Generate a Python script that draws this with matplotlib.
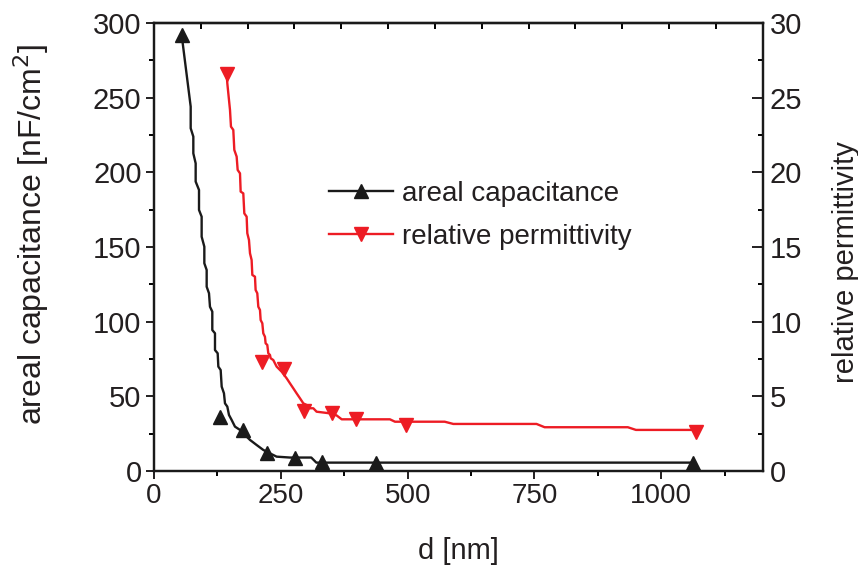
import matplotlib
matplotlib.use('Agg')
import matplotlib.pyplot as plt
from matplotlib.lines import Line2D
import numpy as np

plt.rcParams['font.family'] = ['Liberation Sans', 'DejaVu Sans']

# measured points (markers)
cap_d = [54.5, 130, 176, 223, 278, 332, 437, 1063]
cap_val = [292, 36.4, 27.5, 11.8, 8.5, 6.0, 5.6, 5.5]
perm_d = [143, 213.5, 257, 296, 350, 399, 497, 1069]
perm_val = [26.6, 7.3, 6.8, 4.0, 3.85, 3.46, 3.08, 2.6]

# smoothed curves (lines)
cap_curve_d = [54.5, 72.3, 72.3, 77.5, 77.5, 82.1, 82.1, 88.7, 88.7, 93.9, 93.9,
               99.2, 99.2, 103.8, 103.8, 108.4, 110.3, 114.9, 114.9, 120.2, 120.2,
               125.5, 126.8, 131.4, 133.4, 137.9, 139.9, 144.5, 147.8, 153.0, 159.6,
               169.5, 179.3, 189.2, 202.3, 215.4, 228.6, 241.7, 268, 310, 320, 1063]
cap_curve_val = [292, 244, 229.5, 223.9, 212.7, 206, 193.8, 188.2, 174.8, 170.3, 156.9,
                 150.2, 139.1, 134.6, 123.4, 119, 110, 106.7, 94.4, 92.2, 81,
                 78.8, 69.9, 67.6, 56.5, 52, 45.3, 43.1, 37.5, 34.2, 29.7,
                 27.5, 24.1, 20.8, 17.4, 14.1, 11.8, 9.6, 9.0, 9.0, 5.6, 5.6]
perm_curve_d = [143.2, 144.5, 149.8, 151.7, 156.3, 158.3, 162.9, 164.9, 169.5, 170.8,
                176.0, 178.0, 182.6, 183.9, 187.2, 189.2, 192.4, 193.8, 199.0, 200.3,
                203.6, 205.6, 208.9, 210.2, 213.5, 215.4, 218.7, 220.0, 223.3, 225.3,
                228.6, 229.9, 235.1, 241.7, 251.6, 261.4, 268.0, 274.5, 281.1, 287.7,
                294.3, 300.8, 307.4, 314.0, 320.5, 346.8, 360, 370, 465, 475, 573,
                590, 754, 770, 934, 950, 1069]
perm_curve_val = [26.59, 25.96, 24.17, 23.06, 22.84, 21.50, 21.05, 20.16, 19.93, 18.71,
                  18.59, 17.25, 17.03, 15.92, 15.47, 14.58, 14.13, 13.13, 13.01, 12.12,
                  11.90, 11.00, 10.78, 10.11, 9.89, 9.22, 8.99, 8.55, 8.44, 7.88,
                  7.77, 7.55, 7.43, 6.99, 6.65, 6.21, 5.87, 5.54, 5.20, 4.87,
                  4.53, 4.42, 4.20, 4.20, 3.97, 3.86, 3.72, 3.46, 3.46, 3.30, 3.30,
                  3.15, 3.15, 2.93, 2.93, 2.75, 2.75]

black = '#1a1a1a'
red = '#ed1c24'
textc = '#231f20'

fig = plt.figure(figsize=(8.58, 5.65), dpi=100)
ax = fig.add_axes([0.1795, 0.1664, 0.7095, 0.7929])
ax2 = ax.twinx()

ax.plot(cap_curve_d, cap_curve_val, color=black, lw=1.7)
ax.plot(cap_d, cap_val, ls='none', marker='^', ms=10, color=black)
ax2.plot(perm_curve_d, perm_curve_val, color=red, lw=1.7)
ax2.plot(perm_d, perm_val, ls='none', marker='v', ms=10, color=red)

ax.set_xlim(0, 1200)
ax.set_ylim(0, 300)
ax2.set_ylim(0, 30)
ax.set_xticks([0, 250, 500, 750, 1000])
ax.set_xticks([125, 375, 625, 875, 1125], minor=True)
ax.set_yticks(np.arange(0, 301, 50))
ax.set_yticks(np.arange(25, 300, 50), minor=True)
ax2.set_yticks(np.arange(0, 31, 5))
ax2.set_yticks(np.arange(2.5, 30, 5), minor=True)

ax.tick_params(axis='both', which='major', direction='out', length=6, width=1.4,
               labelsize=20, colors=textc, pad=3)
ax.tick_params(axis='y', which='major', labelsize=21)
ax.tick_params(axis='both', which='minor', direction='out', length=3.5, width=1.4)
ax.tick_params(axis='x', top=False)
ax2.tick_params(axis='y', which='major', direction='in', length=8, width=1.4,
                labelsize=21, colors=textc, pad=5)
ax2.tick_params(axis='y', which='minor', direction='in', length=3.6, width=1.4)

top = ax.secondary_xaxis('top')
top.set_xticks(np.arange(1, 13) * 1200 / 13)
top.tick_params(direction='in', length=4, width=1.4, labeltop=False)
top.spines['top'].set_linewidth(1.6)

for a in (ax, ax2):
    for s in a.spines.values():
        s.set_linewidth(1.6)
        s.set_color(black)

ax.set_xlabel('d [nm]', fontsize=21, color=textc, labelpad=20)
ax.set_ylabel('areal capacitance [nF/cm$^2$]', fontsize=23, color=textc)
ax.yaxis.set_label_coords(-0.169, 0.529)
ax2.set_ylabel('relative permittivity', fontsize=21, color=textc)
ax2.yaxis.set_label_coords(1.113, 0.466)

handles = [Line2D([], [], color=black, lw=1.7, marker='^', ms=10),
           Line2D([], [], color=red, lw=1.7, marker='v', ms=10)]
leg = ax.legend(handles, ['areal capacitance', 'relative permittivity'],
                loc='upper left', bbox_to_anchor=(0.27, 0.672), frameon=False,
                fontsize=20, handlelength=2.3, handletextpad=0.3, labelspacing=0.6,
                borderaxespad=0)
for t in leg.get_texts():
    t.set_color(textc)

fig.savefig('out.png', dpi=100)
